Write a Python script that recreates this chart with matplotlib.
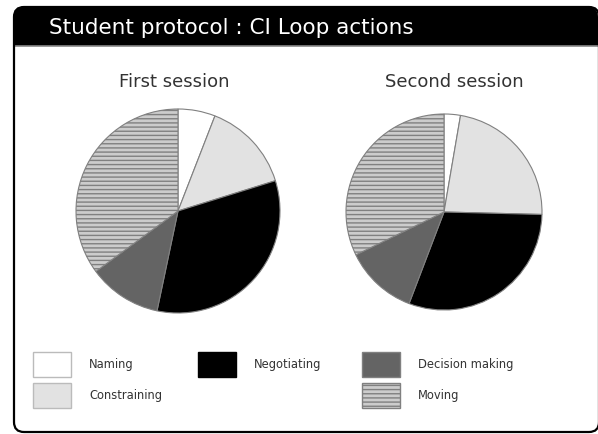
import matplotlib
matplotlib.use("Agg")
import matplotlib.pyplot as plt
from matplotlib.patches import FancyBboxPatch, Rectangle

plt.rcParams['font.family'] = ['DejaVu Sans']
plt.rcParams['hatch.linewidth'] = 1.0

TITLE = "Student protocol : CI Loop actions"
SESSIONS = ["First session", "Second session"]
ACTIONS = ["Naming", "Constraining", "Negotiating", "Decision making", "Moving"]

# shares (%) read clockwise from 12 o'clock
FIRST_SESSION = [5.9, 14.3, 33.1, 11.6, 35.1]
SECOND_SESSION = [2.7, 22.7, 30.4, 12.0, 32.2]

FILLS = ["#ffffff", "#e2e2e2", "#000000", "#646464", "#cccccc"]
HATCHES = [None, None, None, None, "----"]
EDGE = "#808080"

W, H = 598, 435
fig = plt.figure(figsize=(W / 100, H / 100), dpi=100)
ax = fig.add_axes([0, 0, 1, 1])


def fy(y):
    # image y (top down) -> axes y
    return H - y


# frame and title bar
ax.add_patch(FancyBboxPatch((14, fy(100)), 584, 92, boxstyle="round,pad=0,rounding_size=10",
                            facecolor="black", edgecolor="none", zorder=1))
ax.add_patch(Rectangle((14, fy(433)), 585, 386, facecolor="white", edgecolor="none", zorder=2))
ax.plot([14, 598], [fy(47), fy(47)], color="#888888", lw=1.2, zorder=3)
ax.add_patch(FancyBboxPatch((14, fy(433)), 585, 425, boxstyle="round,pad=0,rounding_size=10",
                            facecolor="none", edgecolor="black", lw=1.6, zorder=4))
ax.text(49, fy(28), TITLE, color="white", fontsize=15.5, va="center", ha="left", zorder=5)

# pies
centers = [(178, fy(212)), (444, fy(213))]
radii = [102, 98]
for name, vals, c, r, tx in zip(SESSIONS, [FIRST_SESSION, SECOND_SESSION], centers, radii, [174, 454]):
    wedges, _ = ax.pie(vals, colors=FILLS, startangle=90, counterclock=False,
                       center=c, radius=r, frame=True,
                       wedgeprops=dict(edgecolor=EDGE, linewidth=0.8))
    for wdg, hat in zip(wedges, HATCHES):
        wdg.set_zorder(6)
        if hat:
            wdg.set_hatch(hat)
    ax.text(tx, fy(82), name, color="#333333", fontsize=13, ha="center", va="center", zorder=6)

ax.set_xlim(0, W)
ax.set_ylim(0, H)
ax.set_aspect('equal')
ax.axis('off')

# legend
slots = [(33, 353), (33, 384), (198, 353), (362, 353), (362, 384)]
for label, fill, hat, (bx, by) in zip(ACTIONS, FILLS, HATCHES, slots):
    edge = "#bbbbbb" if fill in ("#ffffff", "#e2e2e2") else EDGE
    if fill == "#000000":
        edge = "black"
    ax.add_patch(Rectangle((bx, fy(by + 25)), 38, 25, facecolor=fill, edgecolor=edge,
                           lw=1.0, hatch=hat, zorder=6))
    ax.text(bx + 56, fy(by + 12), label, color="#333333", fontsize=8.3, ha="left",
            va="center", zorder=6)

fig.savefig("out.png", dpi=100)
